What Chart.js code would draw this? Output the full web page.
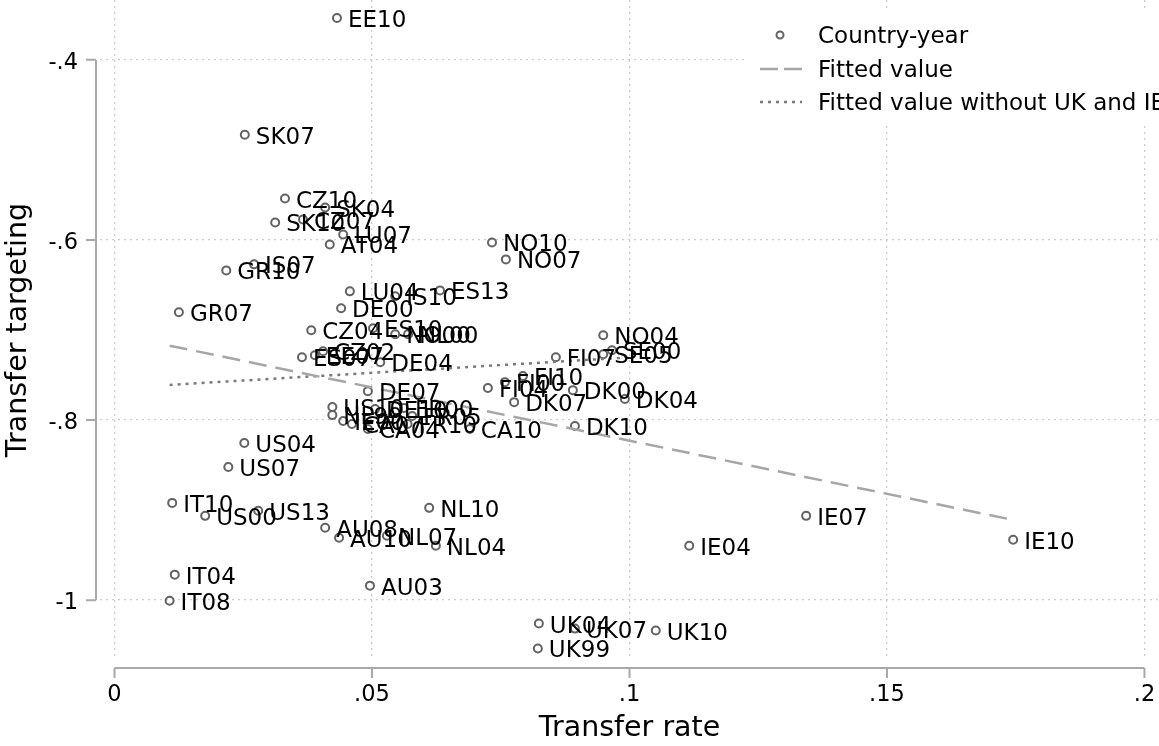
<!DOCTYPE html>
<html>
<head>
<meta charset="utf-8">
<script src="https://cdn.jsdelivr.net/npm/chart.js@4.4.0/dist/chart.umd.min.js"></script>
<style>
  html, body { margin: 0; padding: 0; background: #fff; }
  #wrap { width: 1159px; height: 746px; position: relative; }
</style>
</head>
<body>
<div id="wrap"><canvas id="chart"></canvas></div>
<script>
// country-year points
const countries = ['EE10','SK07','CZ10','SK04','CZ07','SK10','LU07','AT04','NO10','NO07',
  'IS07','GR10','LU04','IS10','ES13','DE00','GR07','CZ04','ES10','NO00','NL00',
  'ES07','EE07','CZ02','DE04','NO04','FI07','SE05','SE00','FI10','FI00','FI04',
  'DK00','DK07','DK04','DK10','DE07','CA10',
  'US10','NL99','IE00','CA07','DE10','FR00','FR05','CA04','FR10',
  'US04','US07','IT10','US00','US13','AU08','AU10','NL07','NL10','NL04',
  'IT04','IT08','AU03','IE07','IE04','IE10','UK04','UK07','UK10','UK99'];
const rate = [0.0432,0.0253,0.0331,0.0409,0.0366,0.0312,0.0444,0.0418,0.0733,0.0760,
  0.0271,0.0217,0.0457,0.0545,0.0632,0.0440,0.0125,0.0382,0.0502,0.0545,0.0570,
  0.0364,0.0389,0.0405,0.0516,0.0949,0.0857,0.0949,0.0966,0.0793,0.0758,0.0725,
  0.0890,0.0776,0.0991,0.0894,0.0492,0.0690,
  0.0423,0.0423,0.0444,0.0461,0.0506,0.0562,0.0578,0.0492,0.0569,
  0.0252,0.0221,0.0112,0.0176,0.0279,0.0409,0.0436,0.0529,0.0611,0.0624,
  0.0117,0.0107,0.0496,0.1343,0.1116,0.1745,0.0824,0.0894,0.1051,0.0822];
const targeting = [-0.3535,-0.4831,-0.5540,-0.5640,-0.5773,-0.5806,-0.5939,-0.6050,-0.6028,-0.6216,
  -0.6271,-0.6338,-0.6571,-0.6626,-0.6560,-0.6759,-0.6803,-0.7003,-0.6981,-0.7047,-0.7047,
  -0.7302,-0.7280,-0.7235,-0.7357,-0.7058,-0.7302,-0.7269,-0.7224,-0.7512,-0.7579,-0.7645,
  -0.7668,-0.7801,-0.7767,-0.8066,-0.7679,-0.8100,
  -0.7856,-0.7945,-0.8011,-0.8044,-0.7878,-0.7867,-0.7956,-0.8100,-0.8044,
  -0.8255,-0.8521,-0.8920,-0.9064,-0.9008,-0.9197,-0.9308,-0.9285,-0.8975,-0.9396,
  -0.9717,-1.0006,-0.9839,-0.9064,-0.9396,-0.9330,-1.0260,-1.0316,-1.0338,-1.0537];

// fitted lines (end points)
const fitRate = [0.0107, 0.1745];
const fitValue = [-0.7174, -0.9109];
const fitRateNoUKIE = [0.0107, 0.0991];
const fitValueNoUKIE = [-0.7610, -0.7307];

// axes
const xTicks = [0, 0.05, 0.1, 0.15, 0.2];
const xTickLabels = ['0', '.05', '.1', '.15', '.2'];
const yTicks = [-1, -0.8, -0.6, -0.4];
const yTickLabels = ['-1', '-.8', '-.6', '-.4'];

const legendItems = ['Country-year', 'Fitted value', 'Fitted value without UK and IE'];

const FONT = '"DejaVu Sans", "Noto Sans", sans-serif';
const POINT_COLOR = '#636363';
const FIT_COLOR = '#a6a6a6';
const FIT2_COLOR = '#7a7a7a';
const AXIS_COLOR = '#a9a9a9';

const toXY = (xs, ys) => xs.map((v, i) => ({ x: v, y: ys[i] }));

const pointLabels = {
  id: 'pointLabels',
  afterDatasetsDraw(chart) {
    const ctx = chart.ctx;
    const meta = chart.getDatasetMeta(2);
    ctx.save();
    ctx.font = '23px ' + FONT;
    ctx.fillStyle = '#000';
    ctx.textAlign = 'left';
    ctx.textBaseline = 'alphabetic';
    meta.data.forEach((pt, i) => ctx.fillText(countries[i], pt.x + 11, pt.y + 9));
    ctx.restore();
  }
};

const axesAndLegend = {
  id: 'axesAndLegend',
  afterDraw(chart) {
    const { ctx, chartArea } = chart;
    const sx = chart.scales.x, sy = chart.scales.y;
    ctx.save();
    ctx.strokeStyle = AXIS_COLOR;
    ctx.lineWidth = 2;
    ctx.fillStyle = '#000';
    ctx.font = '22.5px ' + FONT;

    // x axis
    const ay = chartArea.bottom + 8;
    ctx.beginPath();
    ctx.moveTo(sx.getPixelForValue(xTicks[0]), ay);
    ctx.lineTo(sx.getPixelForValue(xTicks[xTicks.length - 1]), ay);
    xTicks.forEach((v) => {
      const px = sx.getPixelForValue(v);
      ctx.moveTo(px, ay);
      ctx.lineTo(px, ay + 10);
    });
    ctx.stroke();
    ctx.textAlign = 'center';
    ctx.textBaseline = 'alphabetic';
    xTicks.forEach((v, i) => ctx.fillText(xTickLabels[i], sx.getPixelForValue(v), ay + 33));

    // y axis
    const ax = chartArea.left - 4;
    ctx.beginPath();
    ctx.moveTo(ax, sy.getPixelForValue(yTicks[0]));
    ctx.lineTo(ax, sy.getPixelForValue(yTicks[yTicks.length - 1]));
    yTicks.forEach((v) => {
      const py = sy.getPixelForValue(v);
      ctx.moveTo(ax, py);
      ctx.lineTo(ax - 10, py);
    });
    ctx.stroke();
    ctx.textAlign = 'right';
    yTicks.forEach((v, i) => ctx.fillText(yTickLabels[i], ax - 18, sy.getPixelForValue(v) + 9));

    // legend
    const lx = 745, ly = 10;
    ctx.fillStyle = '#fff';
    ctx.fillRect(lx, ly, chart.width - lx, 113);
    const rows = [35, 69, 102];
    ctx.strokeStyle = POINT_COLOR;
    ctx.lineWidth = 2;
    ctx.beginPath();
    ctx.arc(780, rows[0], 3.5, 0, Math.PI * 2);
    ctx.stroke();
    ctx.lineWidth = 2.5;
    ctx.strokeStyle = FIT_COLOR;
    ctx.setLineDash([18, 6]);
    ctx.beginPath();
    ctx.moveTo(760, rows[1]);
    ctx.lineTo(802, rows[1]);
    ctx.stroke();
    ctx.strokeStyle = FIT2_COLOR;
    ctx.setLineDash([3, 5]);
    ctx.beginPath();
    ctx.moveTo(760, rows[2]);
    ctx.lineTo(802, rows[2]);
    ctx.stroke();
    ctx.setLineDash([]);
    ctx.fillStyle = '#000';
    ctx.textAlign = 'left';
    ctx.font = '23px ' + FONT;
    legendItems.forEach((t, i) => ctx.fillText(t, 818, rows[i] + 8));
    ctx.restore();
  }
};

new Chart(document.getElementById('chart'), {
  type: 'scatter',
  data: {
    datasets: [
      {
        label: legendItems[1],
        data: toXY(fitRate, fitValue),
        showLine: true,
        borderColor: FIT_COLOR,
        borderWidth: 2.5,
        borderDash: [18, 9],
        pointRadius: 0,
        fill: false,
      },
      {
        label: legendItems[2],
        data: toXY(fitRateNoUKIE, fitValueNoUKIE),
        showLine: true,
        borderColor: FIT2_COLOR,
        borderWidth: 2.5,
        borderDash: [3, 5],
        pointRadius: 0,
        fill: false,
      },
      {
        label: legendItems[0],
        data: toXY(rate, targeting),
        pointRadius: 4,
        pointBorderWidth: 2,
        pointBorderColor: POINT_COLOR,
        pointBackgroundColor: 'rgba(0,0,0,0)',
      },
    ],
  },
  options: {
    responsive: true,
    maintainAspectRatio: false,
    animation: false,
    layout: { padding: 0, autoPadding: false },
    plugins: { legend: { display: false }, tooltip: { enabled: false } },
    scales: {
      x: {
        type: 'linear',
        min: -0.00282,
        max: 0.20282,
        afterBuildTicks: (s) => { s.ticks = xTicks.map((v) => ({ value: v })); },
        afterFit: (s) => { s.height = 86; },
        ticks: { display: false },
        grid: { color: '#cccccc', lineWidth: 1.3, drawTicks: false },
        border: { display: false, dash: [2, 4] },
        title: { display: true, text: 'Transfer rate', color: '#000', font: { family: FONT, size: 28.5 }, padding: { top: 0, bottom: 0 } },
      },
      y: {
        type: 'linear',
        min: -1.06648,
        max: -0.33352,
        afterBuildTicks: (s) => { s.ticks = yTicks.map((v) => ({ value: v })); },
        afterFit: (s) => { s.width = 100; },
        ticks: { display: false },
        grid: { color: '#cccccc', lineWidth: 1.3, drawTicks: false },
        border: { display: false, dash: [2, 4] },
        title: { display: true, text: 'Transfer targeting', color: '#000', font: { family: FONT, size: 28.5 }, padding: { top: 1, bottom: 0 } },
      },
    },
  },
  plugins: [pointLabels, axesAndLegend],
});
</script>
</body>
</html>
